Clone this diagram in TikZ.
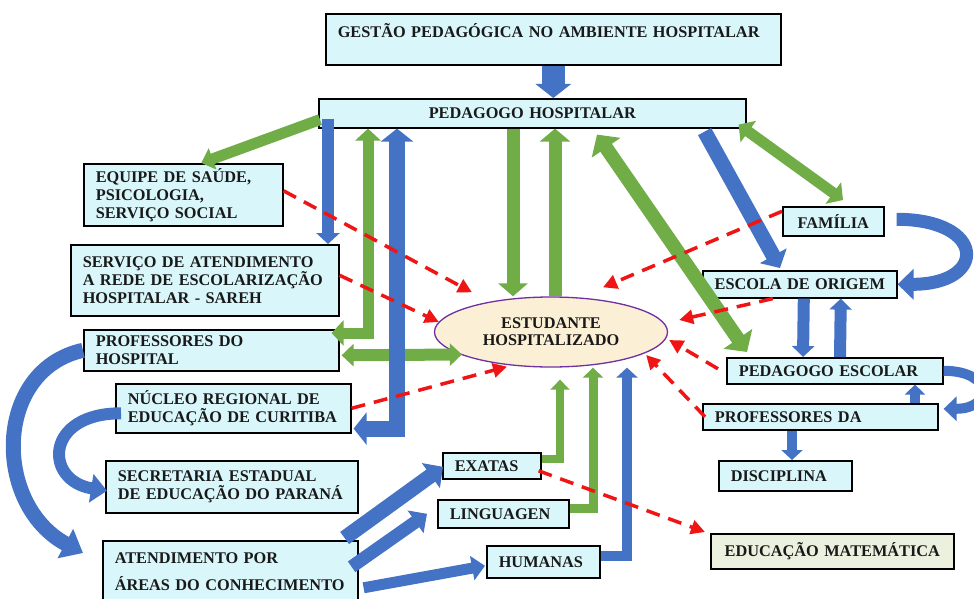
\documentclass[tikz,border=0pt]{standalone}
\usepackage{fontspec}
\setmainfont{Liberation Serif}
\usetikzlibrary{
    arrows.meta,
    shapes.geometric % ellipse
}

\definecolor{boxfill}{HTML}{D9F7FB}
\definecolor{cream}{HTML}{FBEFD5}
\definecolor{lilac}{HTML}{7030A0}
\definecolor{palegreen}{HTML}{EBF1DE}
\definecolor{arrblue}{HTML}{4472C4}
\definecolor{arrgreen}{HTML}{70AD47}
\definecolor{dashred}{HTML}{F01515}

\tikzset{
    box/.style={draw=black, line width=1.6pt, fill=boxfill, anchor=north west,
        inner xsep=12pt, inner ysep=0pt, align=left, text=black!90,
        font=\bfseries\fontsize{16.3}{18}\selectfont},
    bfat/.style={draw=arrblue, line width=#1},
    gfat/.style={draw=arrgreen, line width=#1},
    hd/.style 2 args={-{Triangle[length=#1,width=#2]}},
    hhd/.style 2 args={{Triangle[length=#1,width=#2]}-{Triangle[length=#1,width=#2]}},
    reddash/.style={draw=dashred, line width=3.5pt, dash pattern=on 14pt off 9pt,
        -{Triangle[length=14pt,width=14pt]}}
}

\begin{document}
\begin{tikzpicture}[x=1pt,y=-1pt]
    \useasboundingbox (0,0) rectangle (974,599);

    \node[box, text width=431pt, minimum height=51pt] (ges) at (325,13) {GESTÃO PEDAGÓGICA NO AMBIENTE HOSPITALAR\\\mbox{}};
    \node[box, text width=403pt, minimum height=29pt, align=center] (ped) at (318,98) {PEDAGOGO HOSPITALAR};
    \node[box, text width=175pt, minimum height=62pt] (eq) at (83,163) {EQUIPE DE SAÚDE,\\PSICOLOGIA,\\SERVIÇO SOCIAL};
    \node[box, text width=244pt, minimum height=71pt] (sar) at (70,244) {SERVIÇO DE ATENDIMENTO\\A REDE DE ESCOLARIZAÇÃO\\HOSPITALAR - SAREH};
    \node[box, text width=231pt, minimum height=41pt] (prh) at (83,329) {PROFESSORES DO\\HOSPITAL};
    \node[box, text width=211pt, minimum height=49pt] (nuc) at (115,383) {NÚCLEO REGIONAL DE\\EDUCAÇÃO DE CURITIBA};
    \node[box, text width=228pt, minimum height=52pt] (sec) at (105,460) {SECRETARIA ESTADUAL\\DE EDUCAÇÃO DO PARANÁ};
    \node[box, text width=231pt, minimum height=62pt] (ate) at (102,540) {ATENDIMENTO POR\\[9pt]ÁREAS DO CONHECIMENTO};
    \node[box, text width=74pt, minimum height=26pt] (exa) at (442,452) {EXATAS};
    \node[box, text width=107pt, minimum height=28pt] (lin) at (437,499) {LINGUAGEN};
    \node[box, text width=89pt, minimum height=32pt] (hum) at (486,545) {HUMANAS};
    \node[box, text width=77pt, minimum height=29pt, align=center] (fam) at (782,206) {FAMÍLIA};
    \node[box, text width=182pt, inner xsep=6pt, minimum height=27pt, align=center] (esc) at (702,270) {ESCOLA DE ORIGEM};
    \node[box, text width=192pt, minimum height=26pt] (pes) at (726,357) {PEDAGOGO ESCOLAR};
    \node[box, text width=211pt, minimum height=26pt] (prd) at (702,403) {PROFESSORES DA};
    \node[box, text width=109pt, minimum height=30pt] (dis) at (718,460) {DISCIPLINA};
    \node[box, text width=219pt, minimum height=35pt, align=center, fill=palegreen] (edm) at (710,533) {EDUCAÇÃO MATEMÁTICA};
    \node[ellipse, draw=lilac, line width=1.3pt, fill=cream, minimum width=233pt, minimum height=70pt,
        inner sep=0pt, align=center, text=black!90, font=\bfseries\fontsize{16.3}{17}\selectfont]
        (est) at (551,332) {ESTUDANTE\\HOSPITALIZADO};

    % fat arrows
    \draw[bfat=23pt, hd={14pt}{35pt}] (ges.south) -- (ges.south |- ped.north);
    \draw[gfat=11pt, hd={12pt}{22pt}] ([xshift=2pt,yshift=9pt]ped.south west) -- ([xshift=18pt]eq.north);
    \draw[bfat=12pt, hd={11pt}{23pt}] ([xshift=10pt,yshift=10pt]ped.south west) -- ([xshift=258pt]sar.north west);
    \draw[gfat=11pt, hhd={12pt}{25pt}] ([xshift=-8pt,yshift=-4pt]prh.north east) -| ([xshift=50pt]ped.south west);
    \draw[gfat=12pt, hhd={12pt}{22pt}] ([xshift=2pt,yshift=-5pt]prh.east) -- ([xshift=28pt,yshift=-22.5pt]est.west);
    \draw[bfat=16pt, hhd={13pt}{32pt}] ([xshift=2pt,yshift=5pt]nuc.south east) -| ([xshift=79pt]ped.south west);
    \draw[gfat=13pt, hd={13pt}{29pt}] ([xshift=195pt]ped.south west) -- ([xshift=-38pt]est.north);
    \draw[gfat=13pt, hd={13pt}{30pt}] ([xshift=4pt]est.north) -- ([xshift=237pt]ped.south west);
    \draw[gfat=14pt, hhd={16pt}{34pt}] ([xshift=279pt,yshift=-6pt]ped.south west) -- ([xshift=21pt,yshift=5pt]pes.north west);
    \draw[bfat=15pt, hd={14pt}{30pt}] ([xshift=-42pt,yshift=-3pt]ped.south east) -- ([xshift=78pt,yshift=2pt]esc.north west);
    \draw[gfat=11pt, hhd={12pt}{26pt}] ([xshift=-8pt,yshift=4pt]ped.south east) -- ([xshift=61pt,yshift=6pt]fam.north west);
    \draw[bfat=13pt, hd={16pt}{30pt}] ([xshift=12pt,yshift=2pt]fam.east) .. controls +(90,0) and +(90,0) .. (esc.east);
    \draw[bfat=12pt, hd={11pt}{22pt}] ([xshift=4pt]esc.south) -- ([xshift=77pt]pes.north west);
    \draw[bfat=12pt, hd={11pt}{22pt}] ([xshift=114pt]pes.north west) -- ([xshift=41pt]esc.south);
    \draw[bfat=10pt, hd={13pt}{24pt}] (pes.east) .. controls +(50,0) and +(50,0) .. ([xshift=5pt,yshift=8pt]prd.east);
    \draw[bfat=10pt, hd={10pt}{20pt}] ([xshift=213pt]prd.north west) -- ([xshift=189pt]pes.south west);
    \draw[bfat=10pt, hd={10pt}{21pt}] ([xshift=90pt]prd.south west) -- ([xshift=74pt]dis.north west);
    \draw[bfat=15pt, hd={20pt}{32pt}] (prh.west) .. controls +(-90,20) and +(-90,-48) .. ([xshift=-19pt,yshift=-13pt]ate.north west);
    \draw[bfat=12pt, hd={16pt}{28pt}] ([xshift=6pt,yshift=-5pt]nuc.west) .. controls +(-77,0) and +(-63,-10) .. ([xshift=2pt,yshift=-4pt]sec.west);
    \draw[bfat=15pt, hd={15pt}{30pt}] ([xshift=-14pt,yshift=2pt]ate.north east) -- ([xshift=1pt,yshift=-1pt]exa.west);
    \draw[bfat=13pt, hd={14pt}{27pt}] ([xshift=-7pt,yshift=5pt]ate.east) -- ([xshift=-10pt]lin.west);
    \draw[bfat=11pt, hd={13pt}{24pt}] ([xshift=5pt,yshift=-16pt]ate.east) -- ([xshift=-1pt,yshift=-4pt]hum.west);
    \draw[gfat=8pt, hd={10pt}{19pt}] ([yshift=7pt]exa.east) -| ([xshift=9pt,yshift=-12pt]est.south);
    \draw[gfat=9pt, hd={10pt}{20pt}] ([yshift=5pt]lin.east) -| ([xshift=42pt]est.south);
    \draw[bfat=10pt, hd={10pt}{21pt}] ([yshift=6pt]hum.east) -| ([xshift=76pt]est.south);

    % dashed
    \draw[reddash] ([yshift=4pt]eq.east) -- ([xshift=-79pt,yshift=4pt]est.north);
    \draw[reddash] ([yshift=5pt]sar.east) -- ([xshift=5pt,yshift=10pt]est.west);
    \draw[reddash] (nuc.east) -- ([xshift=-44pt,yshift=1pt]est.south);
    \draw[reddash] ([yshift=10pt]fam.west) -- ([xshift=52pt,yshift=9pt]est.north);
    \draw[reddash] ([xshift=-27pt]esc.south) -- ([xshift=11pt,yshift=12pt]est.east);
    \draw[reddash] ([xshift=-8pt,yshift=2pt]pes.west) -- ([xshift=1pt,yshift=-8pt]est.east);
    \draw[reddash] ([xshift=3pt]prd.west) -- ([xshift=-22pt,yshift=-23pt]est.east);
    \draw[reddash] ([xshift=-3pt,yshift=-5pt]exa.east) -- ([xshift=-5pt,yshift=1pt]edm.north west);
\end{tikzpicture}
\end{document}
